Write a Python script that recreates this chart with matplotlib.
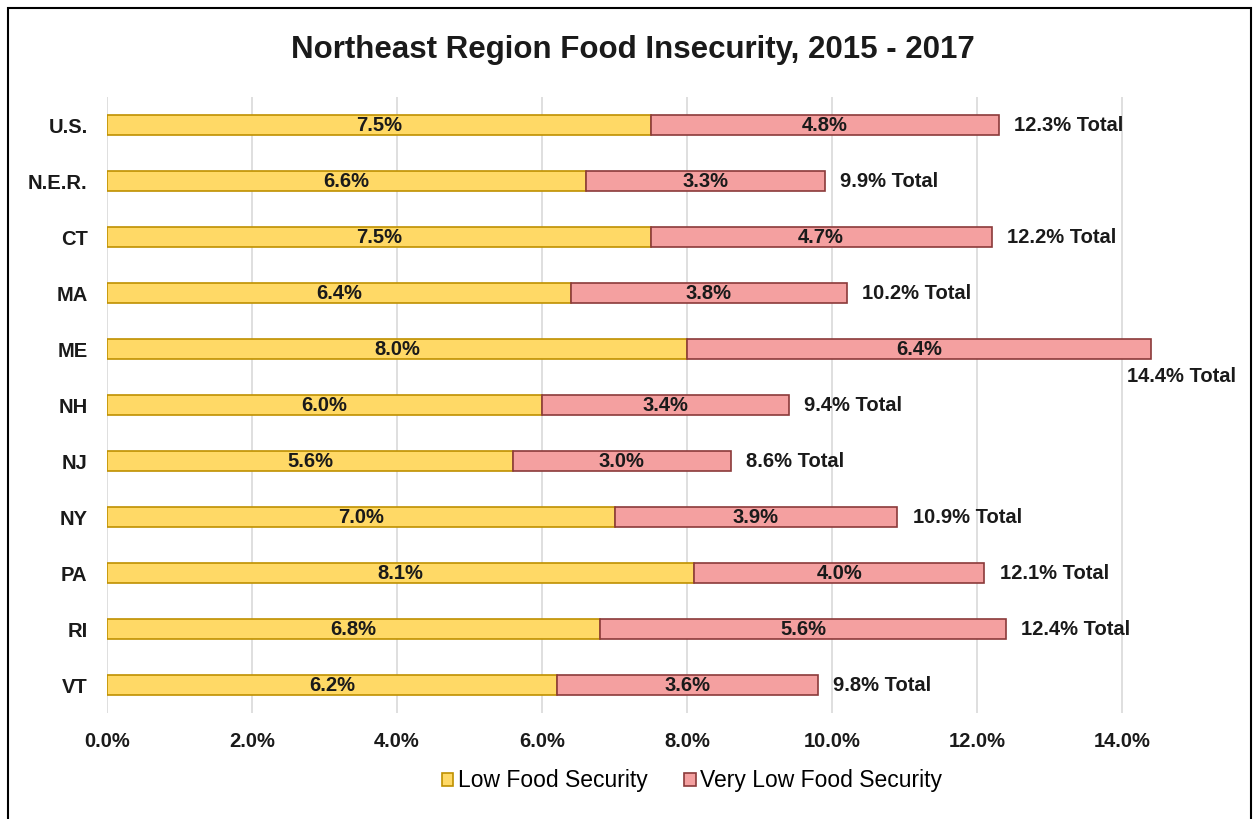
import matplotlib.pyplot as plt
from matplotlib.patches import Rectangle
import numpy as np

plt.rcParams['font.family'] = ['Liberation Sans', 'DejaVu Sans']

regions = ['U.S.', 'N.E.R.', 'CT', 'MA', 'ME', 'NH', 'NJ', 'NY', 'PA', 'RI', 'VT']
low = [7.5, 6.6, 7.5, 6.4, 8.0, 6.0, 5.6, 7.0, 8.1, 6.8, 6.2]
very_low = [4.8, 3.3, 4.7, 3.8, 6.4, 3.4, 3.0, 3.9, 4.0, 5.6, 3.6]
totals = [12.3, 9.9, 12.2, 10.2, 14.4, 9.4, 8.6, 10.9, 12.1, 12.4, 9.8]
xticks = [0, 2, 4, 6, 8, 10, 12, 14]

yellow = '#FFD966'
yellow_edge = '#BF9000'
pink = '#F4A0A0'
pink_edge = '#8B3A3A'
txt = '#1a1a1a'
fs = 14.5

fig = plt.figure(figsize=(12.53, 8.19), dpi=100)
ax = fig.add_axes([0.0854, 0.1294, 0.839, 0.752])

y = np.arange(len(regions))
b1 = ax.barh(y, low, height=0.36, color=yellow, edgecolor=yellow_edge, linewidth=1.2,
             label='Low Food Security', zorder=3)
b2 = ax.barh(y, very_low, left=low, height=0.36, color=pink, edgecolor=pink_edge, linewidth=1.2,
             label='Very Low Food Security', zorder=3)

for i in range(len(regions)):
    ax.text(low[i] / 2, i, f'{low[i]:.1f}%', ha='center', va='center',
            fontsize=fs, fontweight='bold', color=txt, zorder=4)
    ax.text(low[i] + very_low[i] / 2, i, f'{very_low[i]:.1f}%', ha='center', va='center',
            fontsize=fs, fontweight='bold', color=txt, zorder=4)
    # ME total sits under the bar end, like in the original
    if totals[i] > 14:
        ax.annotate(f'{totals[i]:.1f}% Total', xy=(totals[i], i), xytext=(-17, -20),
                    textcoords='offset points', ha='left', va='center',
                    fontsize=fs, fontweight='bold', color=txt, annotation_clip=False)
    else:
        ax.annotate(f'{totals[i]:.1f}% Total', xy=(totals[i], i), xytext=(11, 0),
                    textcoords='offset points', ha='left', va='center',
                    fontsize=fs, fontweight='bold', color=txt)

ax.set_xlim(0, 14.5)
ax.set_ylim(10.5, -0.5)
ax.set_xticks(xticks)
ax.set_xticklabels([f'{t:.1f}%' for t in xticks], fontsize=fs, fontweight='bold', color=txt)
ax.set_yticks(y)
ax.set_yticklabels(regions, fontsize=fs, fontweight='bold', color=txt)
ax.tick_params(length=0, axis='x', pad=14)
ax.tick_params(length=0, axis='y', pad=14)
ax.grid(axis='x', color='#D9D9D9', linewidth=1.2, zorder=0)
for s in ax.spines.values():
    s.set_visible(False)

ax.set_title('Northeast Region Food Insecurity, 2015 - 2017', fontsize=22.5, fontweight='bold',
             color=txt, pad=0, y=1.0 + 39 / 616)

fig.legend(handles=[b1, b2], loc='center', bbox_to_anchor=(692 / 1253, 1 - 781 / 819), ncol=2,
           frameon=False, fontsize=16.5, handlelength=0.5, handleheight=0.5,
           handletextpad=0.2, columnspacing=1.6)

fig.patches.append(Rectangle((8 / 1253, -0.1), 1243 / 1253, 1.1 - 8 / 819, transform=fig.transFigure,
                             fill=False, edgecolor='black', linewidth=1.5))

fig.savefig('out.png', dpi=100, facecolor='white')
